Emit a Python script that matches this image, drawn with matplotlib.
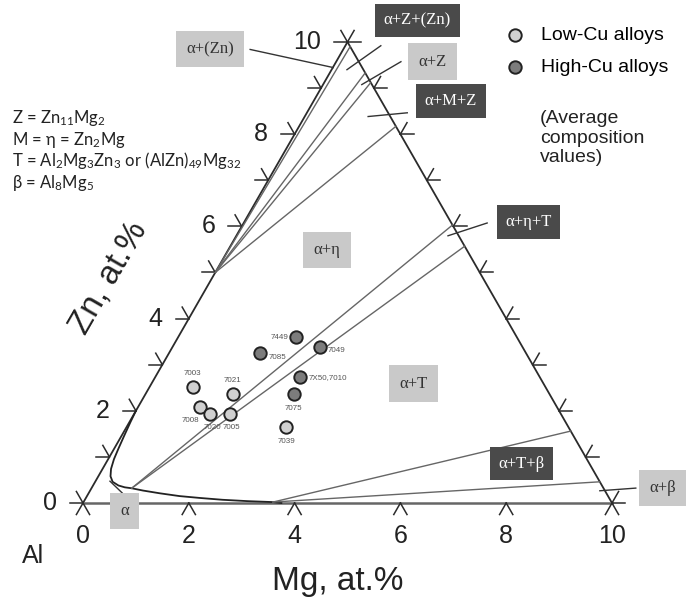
import numpy as np
import matplotlib.pyplot as plt

plt.rcParams['font.family'] = ['Liberation Sans', 'DejaVu Sans']
plt.rcParams['mathtext.fontset'] = 'custom'
plt.rcParams['mathtext.rm'] = 'Lato'
plt.rcParams['mathtext.default'] = 'rm'

H = np.sqrt(3) / 2

# alloy compositions, at.% (Mg, Zn)
low_names = ["7003", "7008", "7020", "7005", "7021", "7039"]
low_mg = [0.82, 1.17, 1.44, 1.81, 1.65, 3.02]
low_zn = [2.51, 2.09, 1.92, 1.93, 2.36, 1.64]
high_names = ["7449", "7085", "7049", "7X50,7010", "7075"]
high_mg = [2.24, 1.72, 2.79, 2.74, 2.80]
high_zn = [3.59, 3.25, 3.39, 2.73, 2.36]

# alpha solvus
solvus_mg = [0.0, 0.02, 0.05, 0.08, 0.11, 0.16, 0.23, 0.33, 0.48, 0.62, 0.76, 1.0, 1.35, 1.75, 2.15, 2.6, 3.1, 3.58, 3.75]
solvus_zn = [2.0, 1.75, 1.45, 1.18, 0.95, 0.74, 0.58, 0.46, 0.38, 0.34, 0.32, 0.27, 0.21, 0.15, 0.11, 0.07, 0.04, 0.02, 0.0]

# tie lines (start point, end points on the Al-90 edge)
fan_start = (0.0, 5.0)
fan_end_mg = [0.1, 0.67, 0.88, 1.83]
fan_end_zn = [9.9, 9.33, 9.12, 8.17]
eta_t_start = (0.76, 0.32)
eta_t_end_mg = [3.97, 4.43]
eta_t_end_zn = [6.03, 5.57]
t_beta_start = (3.58, 0.02)
t_beta_end_mg = [8.44, 9.54]
t_beta_end_zn = [1.56, 0.46]

zn_ticks = list(range(0, 11))
zn_labels = [0, 2, 4, 6, 8, 10]
mg_ticks = [0, 2, 4, 6, 8, 10]


def tern(mg, zn):
    mg = np.asarray(mg, dtype=float)
    zn = np.asarray(zn, dtype=float)
    return mg + zn / 2, zn * H


fig = plt.figure(figsize=(6.86, 6.05), dpi=100)
ax = fig.add_axes([0, 0, 1, 1])
ax.set_xlim(-1.569, 11.399)
ax.set_ylim(-1.916, 9.449)
ax.axis('off')

edge_c = '#2b2b2b'
line_c = '#666666'

# triangle edges
x, y = tern([0, 0], [0, 10])
ax.plot(x, y, color=edge_c, lw=1.3)
x, y = tern([10, 0], [0, 10])
ax.plot(x, y, color=edge_c, lw=1.3)
x, y = tern([0, 10], [0, 0])
ax.plot(x, y, color=line_c, lw=1.8)

# ticks
L = 0.25


def stroke(x0, y0, ang):
    a = np.radians(ang)
    ax.plot([x0, x0 + L * np.cos(a)], [y0, y0 + L * np.sin(a)], color=edge_c, lw=1.1)


for z in zn_ticks:
    x0, y0 = tern(0, z)
    stroke(x0, y0, 180)
    stroke(x0, y0, 120)
    x0, y0 = tern(10 - z, z)
    stroke(x0, y0, 0)
    stroke(x0, y0, 60)
for m in mg_ticks:
    x0, y0 = tern(m, 0)
    stroke(x0, y0, 240)
    stroke(x0, y0, 300)

for z in zn_labels:
    x0, y0 = tern(0, z)
    ax.text(x0 - 0.5, y0, str(z), ha='right', va='center', fontsize=18, color='#222')
for m in mg_ticks:
    x0, y0 = tern(m, 0)
    ax.text(x0, -0.4, str(m), ha='center', va='top', fontsize=18, color='#222')

ax.text(-0.945, -1.0, "Al", ha='center', va='center', fontsize=18, color='#222')
ax.text(4.82, -1.47, "Mg, at.%", ha='center', va='center', fontsize=24, color='#222')
ax.text(0.48, 4.23, "Zn, at.%", ha='center', va='center', fontsize=24, color='#222',
        rotation=60, rotation_mode='anchor')

# phase boundaries
x, y = tern(solvus_mg, solvus_zn)
ax.plot(x, y, color='#222', lw=1.3)
for m, z in zip(fan_end_mg, fan_end_zn):
    x, y = tern([fan_start[0], m], [fan_start[1], z])
    ax.plot(x, y, color=line_c, lw=1.0)
for m, z in zip(eta_t_end_mg, eta_t_end_zn):
    x, y = tern([eta_t_start[0], m], [eta_t_start[1], z])
    ax.plot(x, y, color=line_c, lw=1.0)
for m, z in zip(t_beta_end_mg, t_beta_end_zn):
    x, y = tern([t_beta_start[0], m], [t_beta_start[1], z])
    ax.plot(x, y, color=line_c, lw=1.0)

# phase region labels
light = dict(boxstyle='square,pad=0.62', fc='#c9c9c9', ec='none')
dark = dict(boxstyle='square,pad=0.52', fc='#4a4a4a', ec='none')
phase_font = ['Liberation Serif', 'DejaVu Serif']
labels = [
    ("α+(Zn)", 2.40, 8.53, light), ("α+Z+(Zn)", 6.32, 9.06, dark),
    ("α+Z", 6.61, 8.29, light), ("α+M+Z", 6.95, 7.55, dark),
    ("α+η", 4.61, 4.75, light), ("α+η+T", 8.42, 5.28, dark),
    ("α+T", 6.24, 2.24, light), ("α+T+β", 8.29, 0.74, dark),
    ("α+β", 10.95, 0.28, light), ("α", 0.78, -0.15, light),
]
for txt, lx, ly, box in labels:
    ax.text(lx, ly, txt, ha='center', va='center', fontsize=12, family=phase_font,
            color='white' if box is dark else '#333', bbox=box, zorder=4)

leaders = [
    ((3.16, 8.52), (4.73, 8.18)), ((5.63, 8.59), (4.99, 8.14)),
    ((6.01, 8.29), (5.27, 7.86)), ((6.13, 7.33), (5.39, 7.26)),
    ((7.64, 5.26), (6.90, 5.02)), ((10.45, 0.28), (9.77, 0.23)),
    ((0.74, 0.19), (0.51, 0.41)),
]
for (x1, y1), (x2, y2) in leaders:
    ax.plot([x1, x2], [y1, y2], color='#333', lw=1.0)

# alloys
x, y = tern(low_mg, low_zn)
sc_low = ax.scatter(x, y, s=80, c='#d0d0d0', edgecolors='#222', linewidths=1.4, zorder=5,
                    label='Low-Cu alloys')
x, y = tern(high_mg, high_zn)
sc_high = ax.scatter(x, y, s=80, c='#7c7c7c', edgecolors='#222', linewidths=1.4, zorder=5,
                     label='High-Cu alloys')

low_off = [((0, 10), 'center'), ((-7, -10), 'center'), ((1.5, -9.5), 'center'),
           ((1.5, -9.5), 'center'), ((0, 10), 'center'), ((0, -10), 'center')]
high_off = [((-6, 0), 'right'), ((6, -3), 'left'), ((5, -3), 'left'),
            ((6, 0), 'left'), ((0, -10), 'center')]
for names, mgs, zns, offs in [(low_names, low_mg, low_zn, low_off),
                              (high_names, high_mg, high_zn, high_off)]:
    for n, m, z, (off, ha) in zip(names, mgs, zns, offs):
        ax.annotate(n, tern(m, z), xytext=off, textcoords='offset points',
                    ha=ha, va='center', fontsize=5.8, color='#555')

ax.legend(handles=[sc_low, sc_high], loc='upper left', frameon=False,
          bbox_to_anchor=(505.6 / 686, 1 - 26 / 605), bbox_transform=fig.transFigure,
          fontsize=14, handlelength=1.0, handletextpad=0.8, borderpad=0,
          borderaxespad=0, labelspacing=0.75)
fig.text(540 / 686, 1 - 110 / 605, "(Average\ncomposition\nvalues)", va='top', ha='left',
         fontsize=14, linespacing=1.2, color='#222')

formulas = [r"Z = Zn$_{11}$Mg$_2$", r"M = η = Zn$_2$Mg",
            r"T = Al$_2$Mg$_3$Zn$_3$ or (AlZn)$_{49}$Mg$_{32}$", r"β = Al$_8$Mg$_5$"]
for i, f in enumerate(formulas):
    fig.text(12 / 686, 1 - (123 + 21.7 * i) / 605, f, va='baseline', ha='left',
             fontsize=12, family=['Lato', 'DejaVu Sans'], color='#222')

fig.savefig("out.png", dpi=100)
